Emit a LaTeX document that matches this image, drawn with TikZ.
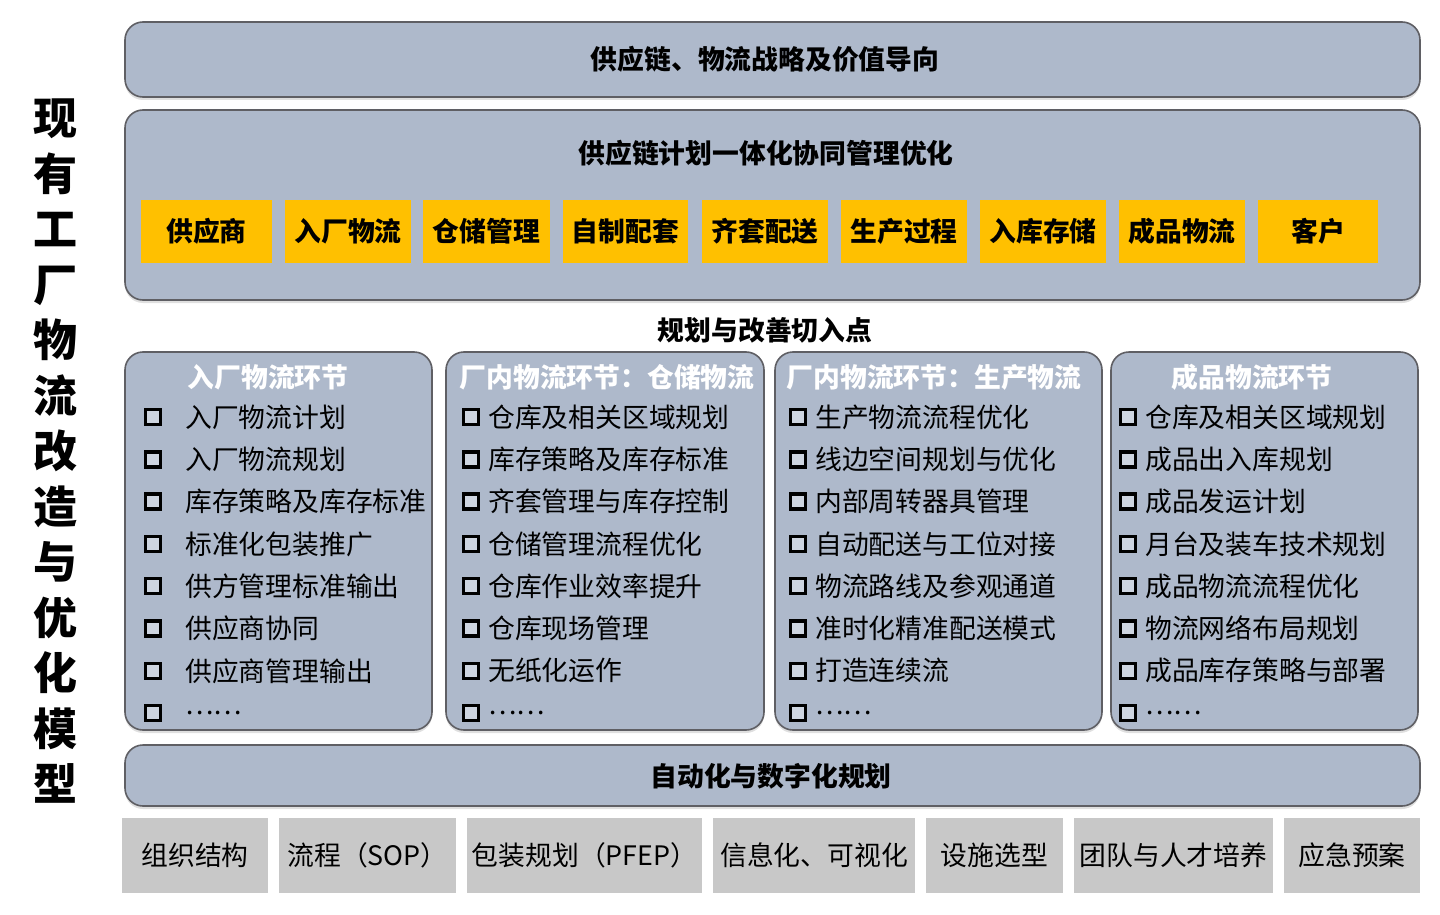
\documentclass[tikz,border=0pt]{standalone}
\usepackage{fontspec}
\setmainfont{Noto Sans CJK SC}
\usetikzlibrary{shadows}
\definecolor{panelc}{RGB}{174,185,203}
\definecolor{edgec}{RGB}{95,95,100}
\definecolor{yel}{RGB}{255,192,0}
\definecolor{greyc}{RGB}{200,200,200}
\newcommand\fsz{\fontsize{26.8}{30}\selectfont}
\tikzset{
 panel/.style={draw=edgec, line width=1.6pt, fill=panelc, rounded corners=18pt, inner sep=0pt,
   drop shadow={shadow xshift=0pt, shadow yshift=-3pt, opacity=0.25}},
 ybox/.style={fill=yel, inner sep=0pt, minimum height=63pt, font=\fsz\bfseries},
 gbox/.style={fill=greyc, inner sep=0pt, minimum height=75pt, font=\fsz},
 bul/.style={draw=black, line width=3.5pt, fill=panelc!60!white, minimum size=15pt, inner sep=0pt},
 itxt/.style={anchor=west, inner sep=0pt, font=\fsz},
 ttl/.style={text=white, font=\fsz\bfseries, inner sep=0pt},
 lbl/.style={font=\fsz\bfseries, inner sep=0pt},
}
\begin{document}
\begin{tikzpicture}[x=1pt,y=-1pt]
\useasboundingbox (0,0) rectangle (1440,915);
\fill[white] (0,0) rectangle (1440,915);

% left vertical title
\node[font=\fontsize{44}{55.5}\selectfont\bfseries, align=center, inner sep=0pt] (title) at (55,451.5)
 {现\\有\\工\\厂\\物\\流\\改\\造\\与\\优\\化\\模\\型};

% top panel
\node[panel, minimum width=1295pt, minimum height=75pt] (top) at (772.5,59.5) {};
\node[lbl] (toptxt) at (765,59.5) {供应链、物流战略及价值导向};

% second panel
\node[panel, minimum width=1295pt, minimum height=190pt] (plan) at (772.5,205) {};
\node[lbl] (plantxt) at (766,153) {供应链计划一体化协同管理优化};

\node[ybox, minimum width=131pt] (y1) at (206.5,231.5) {供应商};
\node[ybox, minimum width=126pt] (y2) at (348,231.5) {入厂物流};
\node[ybox, minimum width=127pt] (y3) at (486.5,231.5) {仓储管理};
\node[ybox, minimum width=125pt] (y4) at (625.5,231.5) {自制配套};
\node[ybox, minimum width=126pt] (y5) at (765,231.5) {齐套配送};
\node[ybox, minimum width=126pt] (y6) at (904,231.5) {生产过程};
\node[ybox, minimum width=126pt] (y7) at (1043,231.5) {入库存储};
\node[ybox, minimum width=126pt] (y8) at (1182,231.5) {成品物流};
\node[ybox, minimum width=120pt] (y9) at (1318,231.5) {客户};

\node[lbl] (cut) at (765,330) {规划与改善切入点};

% four panels
\node[panel, minimum width=307pt, minimum height=378pt] (p1) at (278.5,541) {};
\node[panel, minimum width=318pt, minimum height=378pt] (p2) at (605,541) {};
\node[panel, minimum width=327pt, minimum height=378pt] (p3) at (938.5,541) {};
\node[panel, minimum width=307pt, minimum height=378pt] (p4) at (1264.5,541) {};

\node[ttl] (t1) at (268,377) {入厂物流环节};
\node[ttl] (t2) at (607,377) {厂内物流环节：仓储物流};
\node[ttl] (t3) at (934,377) {厂内物流环节：生产物流};
\node[ttl] (t4) at (1252,377) {成品物流环节};

\foreach \t [count=\i] in {入厂物流计划,入厂物流规划,库存策略及库存标准,标准化包装推广,供方管理标准输出,供应商协同,供应商管理输出,……}{
  \node[bul] (a-b\i) at (153,{417+42.3*(\i-1)}) {};
  \node[itxt] (a-t\i) at (185,{417+42.3*(\i-1)}) {\t};
}
\foreach \t [count=\i] in {仓库及相关区域规划,库存策略及库存标准,齐套管理与库存控制,仓储管理流程优化,仓库作业效率提升,仓库现场管理,无纸化运作,……}{
  \node[bul] (b-b\i) at (471,{417+42.3*(\i-1)}) {};
  \node[itxt] (b-t\i) at (488,{417+42.3*(\i-1)}) {\t};
}
\foreach \t [count=\i] in {生产物流流程优化,线边空间规划与优化,内部周转器具管理,自动配送与工位对接,物流路线及参观通道,准时化精准配送模式,打造连续流,……}{
  \node[bul] (c-b\i) at (798,{417+42.3*(\i-1)}) {};
  \node[itxt] (c-t\i) at (815,{417+42.3*(\i-1)}) {\t};
}
\foreach \t [count=\i] in {仓库及相关区域规划,成品出入库规划,成品发运计划,月台及装车技术规划,成品物流流程优化,物流网络布局规划,成品库存策略与部署,……}{
  \node[bul] (d-b\i) at (1128,{417+42.3*(\i-1)}) {};
  \node[itxt] (d-t\i) at (1145,{417+42.3*(\i-1)}) {\t};
}

% automation panel
\node[panel, minimum width=1295pt, minimum height=61pt] (auto) at (772.5,775.5) {};
\node[lbl] (autotxt) at (771,776) {自动化与数字化规划};

% bottom grey boxes
\node[gbox, minimum width=146pt] (g1) at (195,855.5) {组织结构};
\node[gbox, minimum width=177pt] (g2) at (367.5,855.5) {流程（SOP）};
\node[gbox, minimum width=235pt] (g3) at (584.5,855.5) {包装规划（PFEP）};
\node[gbox, minimum width=202pt] (g4) at (814,855.5) {信息化、可视化};
\node[gbox, minimum width=137pt] (g5) at (994.5,855.5) {设施选型};
\node[gbox, minimum width=199pt] (g6) at (1173.5,855.5) {团队与人才培养};
\node[gbox, minimum width=136pt] (g7) at (1352,855.5) {应急预案};
\end{tikzpicture}
\end{document}
